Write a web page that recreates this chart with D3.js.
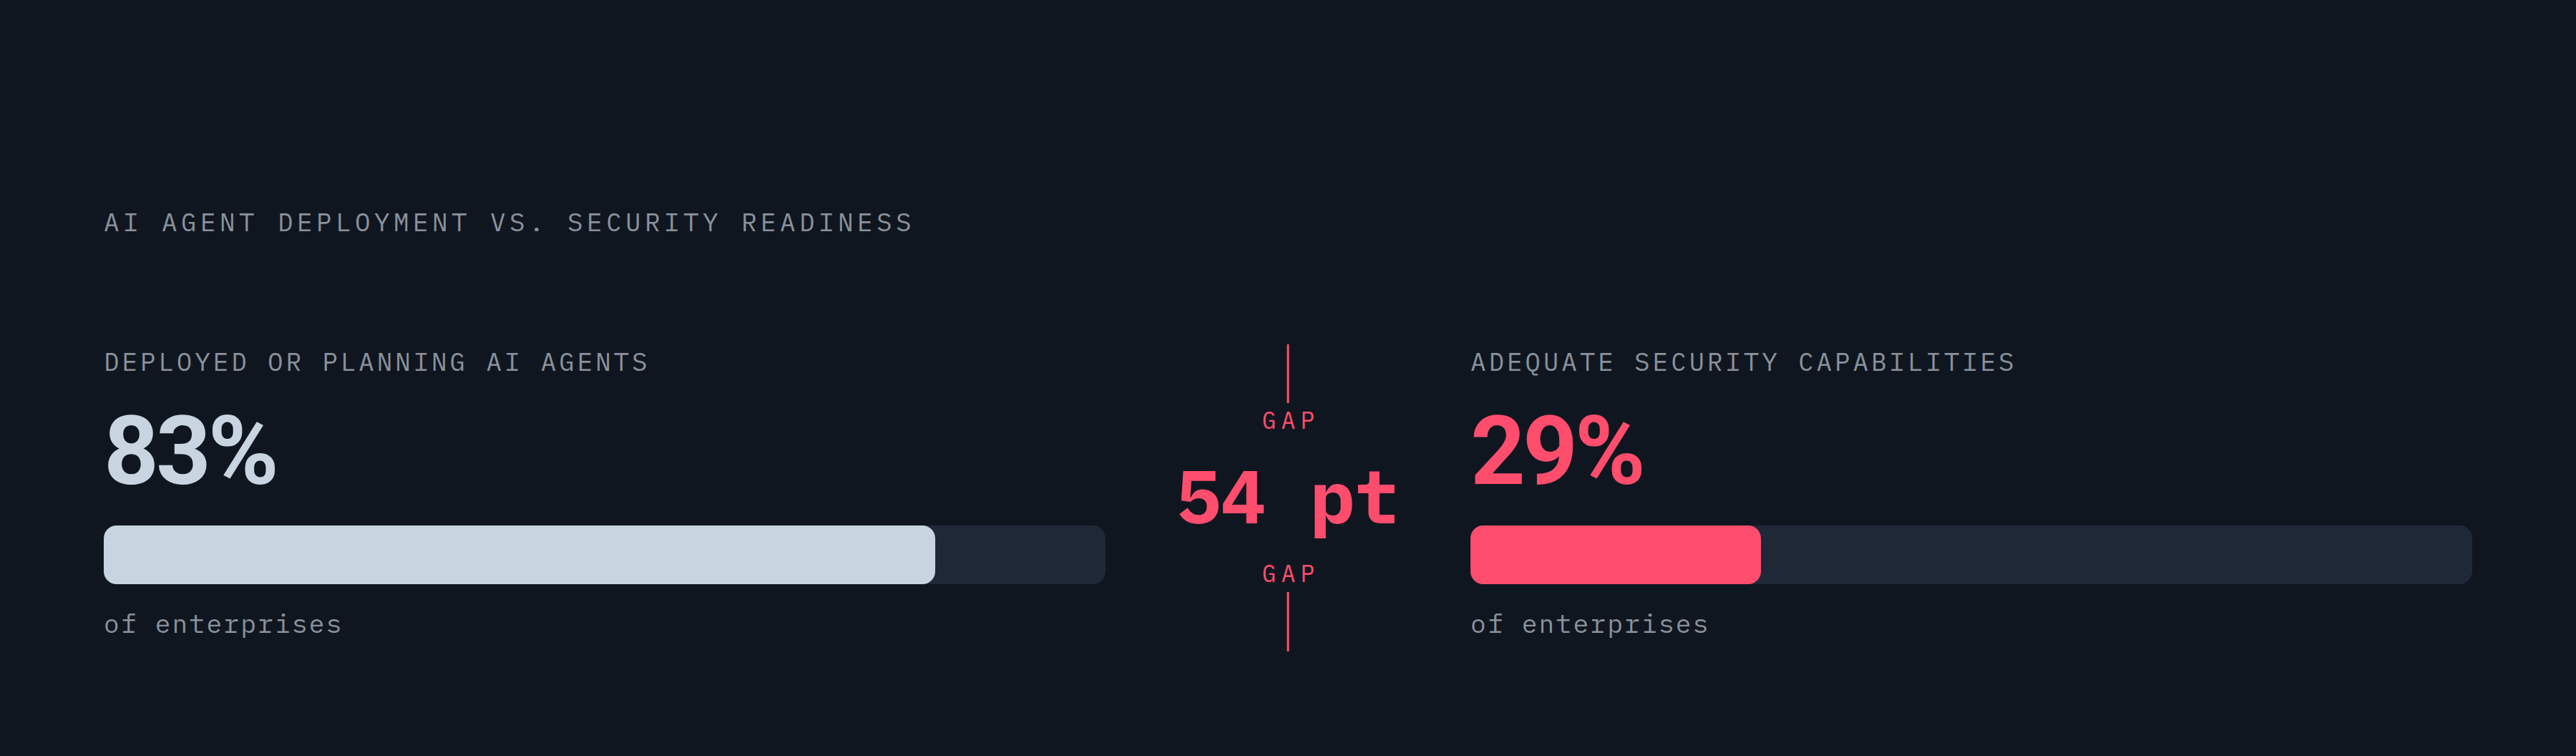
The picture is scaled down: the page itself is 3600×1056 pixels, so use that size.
<!DOCTYPE html>
<html>
<head>
<meta charset="utf-8">
<script src="https://cdn.jsdelivr.net/npm/d3@7"></script>
<style>
  html, body { margin: 0; padding: 0; background: #10161f; }
  svg { display: block; }
  .mono { font-family: "IBM Plex Mono", "DejaVu Sans Mono", monospace; }
  .big { font-family: Roboto, Inter, "Noto Sans", sans-serif; font-weight: 700; }
</style>
</head>
<body>
<svg id="svg1" width="3600" height="1056"></svg>
<script>
// chart data
var title = 'AI AGENT DEPLOYMENT VS. SECURITY READINESS';
var metricLabels = ['DEPLOYED OR PLANNING AI AGENTS', 'ADEQUATE SECURITY CAPABILITIES'];
var metricValues = [83, 29];
var subLabels = ['of enterprises', 'of enterprises'];
var gapUnit = 'pt';
var gapWord = 'GAP';

var width = 3600;
var height = 1056;

var marginLeft = 145;
var barWidth = 1400;
var panelGap = 510;
var barHeight = 82;

var colors = {
    muted: '#8a919b',
    light: '#c8d4e0',
    accent: '#ff4d6d',
    track: '#1e2836'
};
var fillColors = [colors.light, colors.accent];

var svg = d3.select('svg');

var x = d3.scaleLinear()
    .domain([0, 100])
    .range([0, barWidth]);

// title
svg.append('text')
    .attr('class', 'mono')
    .attr('x', marginLeft)
    .attr('y', 323)
    .attr('fill', colors.muted)
    .attr('font-size', 36)
    .attr('letter-spacing', 5.4)
    .text(title);

var panels = svg.selectAll('g.panel')
    .data(metricValues)
    .enter()
    .append('g')
    .attr('class', 'panel')
    .attr('transform', function (d, i) {
        return 'translate(' + (marginLeft + i * (barWidth + panelGap)) + ',0)';
    });

panels.append('text')
    .attr('class', 'mono')
    .attr('y', 518)
    .attr('fill', colors.muted)
    .attr('font-size', 36)
    .attr('letter-spacing', 3.85)
    .text(function (d, i) { return metricLabels[i]; });

panels.append('text')
    .attr('class', 'big')
    .attr('y', 676)
    .attr('fill', function (d, i) { return fillColors[i]; })
    .attr('font-size', 134)
    .attr('letter-spacing', -4)
    .text(function (d) { return d + '%'; });

// track
panels.append('rect')
    .attr('y', 734)
    .attr('width', x(100))
    .attr('height', barHeight)
    .attr('rx', 18)
    .attr('fill', colors.track);

// value bar
panels.append('rect')
    .attr('y', 734)
    .attr('width', function (d) { return x(d); })
    .attr('height', barHeight)
    .attr('rx', 18)
    .attr('fill', function (d, i) { return fillColors[i]; });

panels.append('text')
    .attr('class', 'mono')
    .attr('y', 884)
    .attr('fill', colors.muted)
    .attr('font-size', 36)
    .attr('letter-spacing', 2.3)
    .text(function (d, i) { return subLabels[i]; });

// gap marker in the middle
var cx = marginLeft + barWidth + panelGap / 2;
var gap = svg.append('g').attr('transform', 'translate(' + cx + ',0)');

gap.append('line')
    .attr('y1', 481).attr('y2', 563)
    .attr('stroke', colors.accent)
    .attr('stroke-width', 3);

gap.append('line')
    .attr('y1', 827).attr('y2', 910)
    .attr('stroke', colors.accent)
    .attr('stroke-width', 3);

[599, 813].forEach(function (y) {
    gap.append('text')
        .attr('class', 'mono')
        .attr('x', 4)
        .attr('y', y)
        .attr('text-anchor', 'middle')
        .attr('fill', colors.accent)
        .attr('font-size', 33)
        .attr('letter-spacing', 7)
        .text(gapWord);
});

gap.append('text')
    .attr('class', 'mono')
    .attr('y', 731)
    .attr('text-anchor', 'middle')
    .attr('fill', colors.accent)
    .attr('font-size', 104)
    .attr('font-weight', 700)
    .text((metricValues[0] - metricValues[1]) + ' ' + gapUnit);
</script>
</body>
</html>
